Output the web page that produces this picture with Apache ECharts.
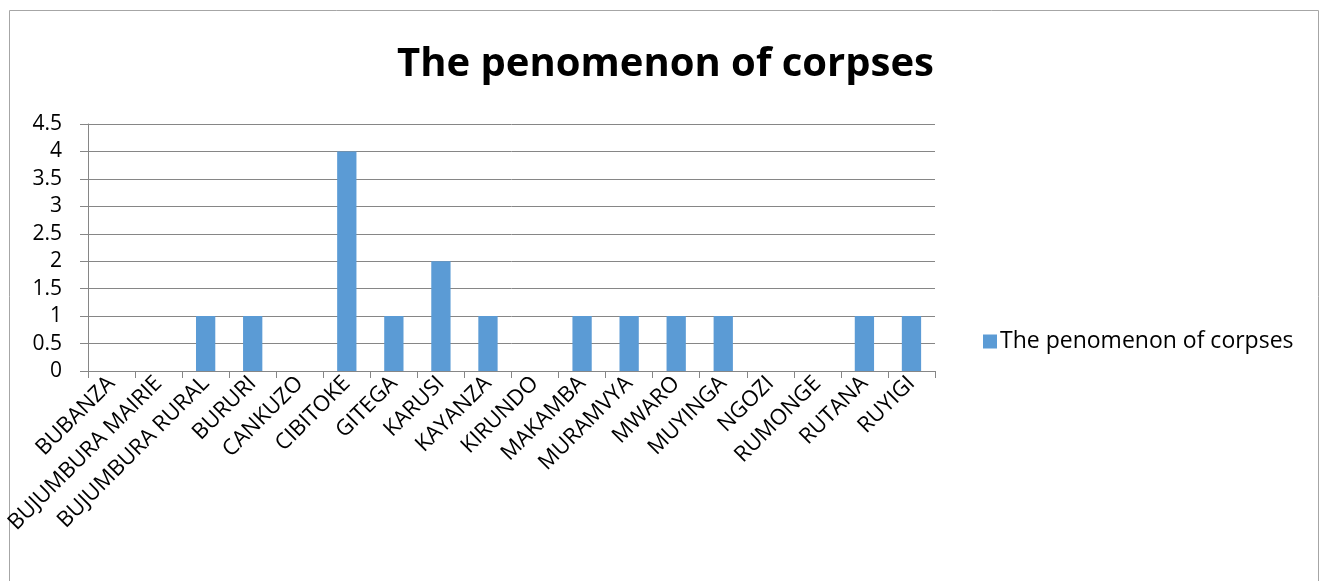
<!DOCTYPE html>
<html><head><meta charset="utf-8">
<script src="https://cdn.jsdelivr.net/npm/echarts@6/dist/echarts.min.js"></script>
<style>html,body{margin:0;padding:0;background:#fff}#c{width:1323px;height:581px}</style>
</head><body><div id="c"></div>
<script>
const categories = ["BUBANZA","BUJUMBURA MAIRIE","BUJUMBURA RURAL","BURURI","CANKUZO","CIBITOKE","GITEGA","KARUSI","KAYANZA","KIRUNDO","MAKAMBA","MURAMVYA","MWARO","MUYINGA","NGOZI","RUMONGE","RUTANA","RUYIGI"];
const values = [0,0,1,1,0,4,1,2,1,0,1,1,1,1,0,0,1,1];
const seriesName = "The penomenon of corpses";
const titleText = "The penomenon of corpses";

const font = "'Open Sans', 'Liberation Sans', sans-serif";
const chart = echarts.init(document.getElementById('c'));
chart.setOption({
  animation: false,
  backgroundColor: '#fff',
  graphic: [{type:'rect', shape:{x:9.5,y:10.5,width:1309,height:600}, style:{fill:'none',stroke:'#a6a6a6',lineWidth:1}, silent:true}],
  title: {text: titleText, left: 397, top: 45, padding:0, itemGap:0,
    textStyle:{fontFamily: font, fontWeight:'bold', fontSize: 40, color:'#000'}},
  legend: {orient:'vertical', left: 978, top: 325, itemWidth: 14, itemHeight: 14, icon:'rect', itemGap: 8,
    textStyle:{fontFamily: font, fontSize: 23, color:'#000', padding:[0,0,0,-2]}},
  grid: {left: 88, right: 1323-935, top: 124, bottom: 581-371, containLabel:false},
  xAxis: {type:'category', data: categories, boundaryGap: true,
    axisLine:{lineStyle:{color:'#868686'}},
    axisTick:{show:true, length:7, lineStyle:{color:'#868686'}},
    axisLabel:{rotate:45, interval:0, fontFamily: font, fontSize: 22, color:'#000', margin: 9}},
  yAxis: {type:'value', min:0, max:4.5, interval:0.5,
    axisLine:{show:true, lineStyle:{color:'#868686'}},
    axisTick:{show:true, length:8, lineStyle:{color:'#868686'}},
    splitLine:{lineStyle:{color:'#868686'}},
    axisLabel:{fontFamily: font, fontSize: 21, color:'#000', margin: 26}},
  series: [{name: seriesName, type:'bar', data: values, barWidth: '41%', itemStyle:{color:'#5b9bd5'}}]
});
</script></body></html>
